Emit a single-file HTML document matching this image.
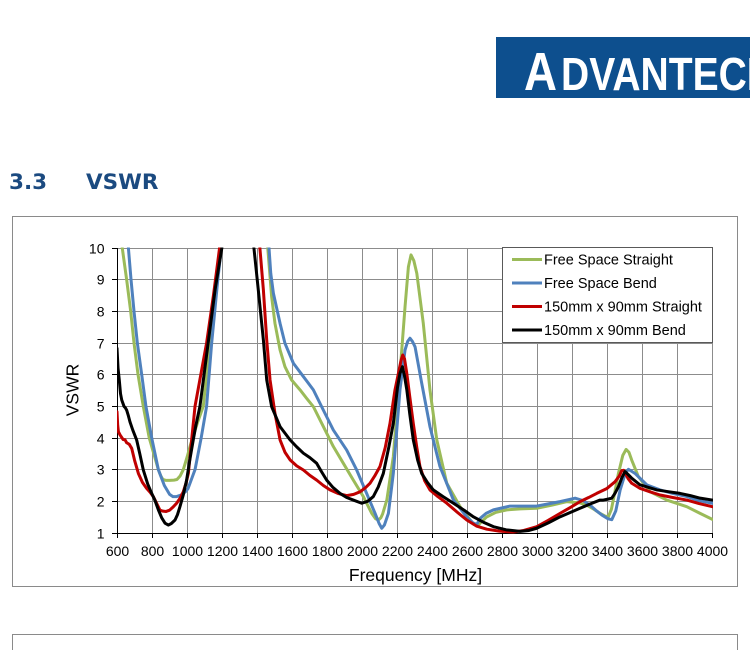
<!DOCTYPE html>
<html>
<head>
<meta charset="utf-8">
<style>
  html,body{margin:0;padding:0;background:#fff;}
  body{width:750px;height:650px;overflow:hidden;}
  svg{display:block;}
</style>
</head>
<body>
<svg width="750" height="650" viewBox="0 0 750 650" xmlns="http://www.w3.org/2000/svg">
  <defs>
    <clipPath id="plot"><rect x="117" y="247.5" width="596" height="287"/></clipPath>
    <clipPath id="page"><rect x="0" y="0" width="750" height="650"/></clipPath>
  </defs>

  <!-- Logo -->
  <rect x="496" y="37" width="254" height="61" fill="#0d4f8e"/>
  <g clip-path="url(#page)" fill="#fff" font-family="Liberation Sans, sans-serif" font-weight="bold">
    <text x="524" y="90" font-size="54" textLength="33" lengthAdjust="spacingAndGlyphs">A</text>
    <text x="561" y="90" font-size="46" textLength="214" lengthAdjust="spacingAndGlyphs">DVANTECH</text>
  </g>

  <!-- Heading -->
  <g font-family="DejaVu Sans, Verdana, sans-serif" font-weight="bold" font-size="21.5" fill="#1b4a80">
    <text x="9" y="189">3.3</text>
    <text x="86" y="189">VSWR</text>
  </g>

  <!-- Chart frames -->
  <rect x="12.5" y="216.5" width="725" height="370" fill="#fff" stroke="#8a8a8a" stroke-width="1"/>
  <rect x="12.5" y="634.5" width="725" height="40" fill="#fff" stroke="#8a8a8a" stroke-width="1"/>

  <!-- Gridlines -->
  <g stroke="#8c8c8c" stroke-width="1">
    <line x1="152.5" y1="248" x2="152.5" y2="533"/>
    <line x1="187.5" y1="248" x2="187.5" y2="533"/>
    <line x1="222.5" y1="248" x2="222.5" y2="533"/>
    <line x1="257.5" y1="248" x2="257.5" y2="533"/>
    <line x1="292.5" y1="248" x2="292.5" y2="533"/>
    <line x1="327.5" y1="248" x2="327.5" y2="533"/>
    <line x1="362.5" y1="248" x2="362.5" y2="533"/>
    <line x1="397.5" y1="248" x2="397.5" y2="533"/>
    <line x1="432.5" y1="248" x2="432.5" y2="533"/>
    <line x1="467.5" y1="248" x2="467.5" y2="533"/>
    <line x1="502.5" y1="248" x2="502.5" y2="533"/>
    <line x1="537.5" y1="248" x2="537.5" y2="533"/>
    <line x1="572.5" y1="248" x2="572.5" y2="533"/>
    <line x1="607.5" y1="248" x2="607.5" y2="533"/>
    <line x1="642.5" y1="248" x2="642.5" y2="533"/>
    <line x1="677.5" y1="248" x2="677.5" y2="533"/>
    <line x1="712.5" y1="248" x2="712.5" y2="533"/>
    <line x1="117" y1="248.5" x2="713" y2="248.5"/>
    <line x1="117" y1="279.5" x2="713" y2="279.5"/>
    <line x1="117" y1="311.5" x2="713" y2="311.5"/>
    <line x1="117" y1="343.5" x2="713" y2="343.5"/>
    <line x1="117" y1="374.5" x2="713" y2="374.5"/>
    <line x1="117" y1="406.5" x2="713" y2="406.5"/>
    <line x1="117" y1="438.5" x2="713" y2="438.5"/>
    <line x1="117" y1="469.5" x2="713" y2="469.5"/>
    <line x1="117" y1="501.5" x2="713" y2="501.5"/>
  </g>

  <!-- Axes -->
  <g stroke="#000" stroke-width="1">
    <line x1="117.5" y1="248" x2="117.5" y2="533.5"/>
    <line x1="117" y1="533.5" x2="713" y2="533.5"/>
    <!-- y ticks -->
    <line x1="112" y1="248.5" x2="117" y2="248.5"/>
    <line x1="112" y1="279.5" x2="117" y2="279.5"/>
    <line x1="112" y1="311.5" x2="117" y2="311.5"/>
    <line x1="112" y1="343.5" x2="117" y2="343.5"/>
    <line x1="112" y1="374.5" x2="117" y2="374.5"/>
    <line x1="112" y1="406.5" x2="117" y2="406.5"/>
    <line x1="112" y1="438.5" x2="117" y2="438.5"/>
    <line x1="112" y1="469.5" x2="117" y2="469.5"/>
    <line x1="112" y1="501.5" x2="117" y2="501.5"/>
    <line x1="112" y1="533.5" x2="117" y2="533.5"/>
    <!-- x ticks -->
    <line x1="117.5" y1="533" x2="117.5" y2="538"/>
    <line x1="152.5" y1="533" x2="152.5" y2="538"/>
    <line x1="187.5" y1="533" x2="187.5" y2="538"/>
    <line x1="222.5" y1="533" x2="222.5" y2="538"/>
    <line x1="257.5" y1="533" x2="257.5" y2="538"/>
    <line x1="292.5" y1="533" x2="292.5" y2="538"/>
    <line x1="327.5" y1="533" x2="327.5" y2="538"/>
    <line x1="362.5" y1="533" x2="362.5" y2="538"/>
    <line x1="397.5" y1="533" x2="397.5" y2="538"/>
    <line x1="432.5" y1="533" x2="432.5" y2="538"/>
    <line x1="467.5" y1="533" x2="467.5" y2="538"/>
    <line x1="502.5" y1="533" x2="502.5" y2="538"/>
    <line x1="537.5" y1="533" x2="537.5" y2="538"/>
    <line x1="572.5" y1="533" x2="572.5" y2="538"/>
    <line x1="607.5" y1="533" x2="607.5" y2="538"/>
    <line x1="642.5" y1="533" x2="642.5" y2="538"/>
    <line x1="677.5" y1="533" x2="677.5" y2="538"/>
    <line x1="712.5" y1="533" x2="712.5" y2="538"/>
  </g>

  <!-- Y tick labels -->
  <g font-family="Liberation Sans, Arial, sans-serif" font-size="14" fill="#000" text-anchor="end">
    <text x="104.5" y="253.5">10</text>
    <text x="104.5" y="284.5">9</text>
    <text x="104.5" y="316.5">8</text>
    <text x="104.5" y="348.5">7</text>
    <text x="104.5" y="379.5">6</text>
    <text x="104.5" y="411.5">5</text>
    <text x="104.5" y="443.5">4</text>
    <text x="104.5" y="474.5">3</text>
    <text x="104.5" y="506.5">2</text>
    <text x="104.5" y="538.5">1</text>
  </g>

  <!-- X tick labels -->
  <g font-family="Liberation Sans, Arial, sans-serif" font-size="14" fill="#000" text-anchor="middle">
    <text x="117.5" y="556">600</text>
    <text x="152.5" y="556">800</text>
    <text x="187.5" y="556">1000</text>
    <text x="222.5" y="556">1200</text>
    <text x="257.5" y="556">1400</text>
    <text x="292.5" y="556">1600</text>
    <text x="327.5" y="556">1800</text>
    <text x="362.5" y="556">2000</text>
    <text x="397.5" y="556">2200</text>
    <text x="432.5" y="556">2400</text>
    <text x="467.5" y="556">2600</text>
    <text x="502.5" y="556">2800</text>
    <text x="537.5" y="556">3000</text>
    <text x="572.5" y="556">3200</text>
    <text x="607.5" y="556">3400</text>
    <text x="642.5" y="556">3600</text>
    <text x="677.5" y="556">3800</text>
    <text x="712.5" y="556">4000</text>
  </g>

  <!-- Axis titles -->
  <text x="415.5" y="581" font-family="Liberation Sans, Arial, sans-serif" font-size="17.5" fill="#000" text-anchor="middle">Frequency [MHz]</text>
  <text transform="translate(78.5,390) rotate(-90)" font-family="Liberation Sans, Arial, sans-serif" font-size="17.5" fill="#000" text-anchor="middle">VSWR</text>

  <!-- Series -->
  <g clip-path="url(#plot)">
    <g transform="matrix(0.17532 0 0 -31.67 11.81 564.67)" fill="none" stroke-linejoin="round" stroke-linecap="round">
      <polyline vector-effect="non-scaling-stroke" stroke="#9bbb59" stroke-width="3" points="620,11.5 630,10 655,9 678,8 697,7 720,6 750,5 784,4 810,3.5 836,3.0 850,2.8 862,2.69 880,2.66 900,2.66 925,2.67 942,2.69 960,2.8 978,3.0 1000,3.4 1020,3.8 1060,4.5 1092,5.0 1130,7.0 1160,8.5 1193,10 1210,11 1440,11 1460,10 1482,8.46 1501,7.62 1530,6.78 1558,6.25 1596,5.83 1644,5.52 1682,5.25 1720,4.99 1777,4.36 1834,3.73 1891,3.2 1948,2.67 2005,2.15 2053,1.62 2075,1.45 2091,1.41 2105,1.48 2115,1.6 2139,2.04 2176,3.41 2214,6.04 2243,8.15 2262,9.4 2277,9.78 2293,9.6 2310,9.2 2347,7.62 2385,5.52 2424,3.94 2481,2.57 2557,1.83 2633,1.28 2660,1.25 2685,1.38 2709,1.51 2760,1.65 2823,1.73 2900,1.76 2994,1.78 3080,1.88 3165,1.99 3240,1.95 3279,1.88 3320,1.75 3355,1.62 3385,1.53 3403,1.52 3420,1.75 3440,2.3 3460,2.88 3485,3.45 3504,3.64 3520,3.55 3536,3.3 3574,2.78 3641,2.3 3736,2.04 3850,1.83 3926,1.62 3996,1.43"/>
      <polyline vector-effect="non-scaling-stroke" stroke="#4f81bd" stroke-width="3" points="650,11 665,10 680,9 697,8 716,7 741,6 765,5 798,4 836,3.0 870,2.5 900,2.22 919,2.15 940,2.15 965,2.2 990,2.3 1005,2.4 1025,2.7 1045,3.0 1080,4.0 1111,5 1140,7 1175,9 1195,10 1210,11 1450,11 1467,10 1477,9.2 1492,8.57 1530,7.62 1558,6.99 1606,6.36 1663,5.94 1720,5.52 1777,4.88 1834,4.25 1910,3.62 1967,2.99 2024,2.25 2072,1.62 2095,1.3 2110,1.15 2125,1.25 2148,1.62 2176,2.88 2214,5.52 2243,6.78 2258,7.05 2271,7.15 2285,7.05 2300,6.88 2338,5.73 2385,4.36 2442,3.1 2519,2.04 2595,1.51 2630,1.32 2652,1.27 2671,1.46 2705,1.62 2747,1.73 2842,1.85 2994,1.85 3060,1.92 3127,1.99 3213,2.1 3260,2.02 3298,1.88 3335,1.7 3365,1.57 3400,1.45 3422,1.42 3445,1.7 3470,2.36 3500,2.9 3517,3.01 3535,2.95 3555,2.88 3622,2.52 3698,2.36 3770,2.25 3850,2.15 3920,2.02 3996,1.94"/>
      <polyline vector-effect="non-scaling-stroke" stroke="#c00000" stroke-width="3" points="600,4.83 604,4.4 608,4.2 617,4.1 635,3.95 645,3.95 655,3.85 670,3.8 684,3.67 700,3.3 722,2.88 745,2.6 769,2.41 790,2.28 807,2.15 825,1.95 845,1.72 862,1.69 880,1.68 900,1.72 920,1.82 940,1.94 960,2.1 978,2.3 995,2.6 1007,2.88 1025,3.9 1045,5 1078,6.0 1111,7 1150,8.5 1185,10 1200,11 1400,11 1415,10 1435,8.67 1454,7.09 1473,5.83 1501,4.78 1530,3.94 1558,3.55 1587,3.31 1625,3.12 1663,2.99 1700,2.82 1739,2.67 1777,2.5 1815,2.36 1860,2.25 1910,2.18 1950,2.22 1986,2.3 2015,2.42 2043,2.57 2070,2.8 2100,3.1 2130,3.7 2157,4.46 2185,5.5 2205,6.04 2220,6.45 2230,6.62 2240,6.5 2253,6.04 2270,5.3 2290,4.46 2310,3.7 2328,3.1 2355,2.65 2385,2.36 2430,2.15 2481,1.94 2540,1.66 2595,1.41 2650,1.22 2709,1.12 2780,1.06 2860,1.03 2920,1.08 2994,1.2 3060,1.4 3127,1.62 3190,1.82 3241,1.99 3290,2.12 3336,2.25 3393,2.4 3441,2.62 3465,2.8 3479,2.97 3490,2.98 3498,2.9 3515,2.72 3536,2.57 3583,2.41 3640,2.3 3698,2.2 3770,2.12 3850,2.04 3920,1.93 3996,1.83"/>
      <polyline vector-effect="non-scaling-stroke" stroke="#000000" stroke-width="3" points="600,6.83 606,6.2 613,5.83 620,5.4 627,5.2 640,5.0 648,4.95 655,4.88 665,4.7 674,4.51 690,4.25 712,3.94 730,3.5 750,2.99 775,2.55 798,2.25 815,2.05 836,1.73 855,1.48 874,1.31 893,1.25 910,1.3 931,1.41 945,1.58 959,1.83 978,2.2 997,2.67 1015,3.3 1035,3.94 1050,4.4 1073,5 1120,7 1160,8.7 1198,10 1210,11 1370,11 1381,10 1406,8.67 1435,7.09 1454,5.83 1482,4.99 1530,4.36 1587,3.94 1625,3.72 1663,3.52 1700,3.38 1739,3.2 1765,2.95 1796,2.67 1830,2.45 1872,2.25 1910,2.12 1948,2.04 1996,1.94 2030,2.0 2062,2.15 2090,2.45 2119,2.88 2150,3.7 2176,4.46 2200,5.6 2214,6.04 2228,6.25 2240,5.95 2253,5.52 2270,4.75 2290,3.94 2315,3.3 2338,2.88 2370,2.6 2404,2.36 2460,2.15 2519,1.94 2580,1.72 2633,1.51 2690,1.34 2747,1.2 2820,1.1 2899,1.05 2950,1.08 2994,1.15 3060,1.32 3127,1.51 3190,1.66 3241,1.78 3300,1.92 3355,2.04 3374,2.04 3400,2.07 3422,2.1 3440,2.25 3460,2.46 3480,2.75 3498,2.94 3515,2.85 3536,2.73 3583,2.52 3679,2.36 3750,2.3 3812,2.25 3870,2.18 3926,2.1 3996,2.04"/>
    </g>
  </g>

  <!-- Legend -->
  <rect x="502.5" y="247.5" width="210" height="95" fill="#fff" stroke="#595959" stroke-width="1"/>
  <g stroke-width="3" stroke-linecap="butt">
    <line x1="512" y1="259.5" x2="542" y2="259.5" stroke="#9bbb59"/>
    <line x1="512" y1="283" x2="542" y2="283" stroke="#4f81bd"/>
    <line x1="512" y1="306.5" x2="542" y2="306.5" stroke="#c00000"/>
    <line x1="512" y1="330" x2="542" y2="330" stroke="#000"/>
  </g>
  <g font-family="Liberation Sans, Arial, sans-serif" font-size="14.5" fill="#000">
    <text x="544" y="264.5">Free Space Straight</text>
    <text x="544" y="288">Free Space Bend</text>
    <text x="544" y="311.5">150mm x 90mm Straight</text>
    <text x="544" y="335">150mm x 90mm Bend</text>
  </g>
</svg>
</body>
</html>
